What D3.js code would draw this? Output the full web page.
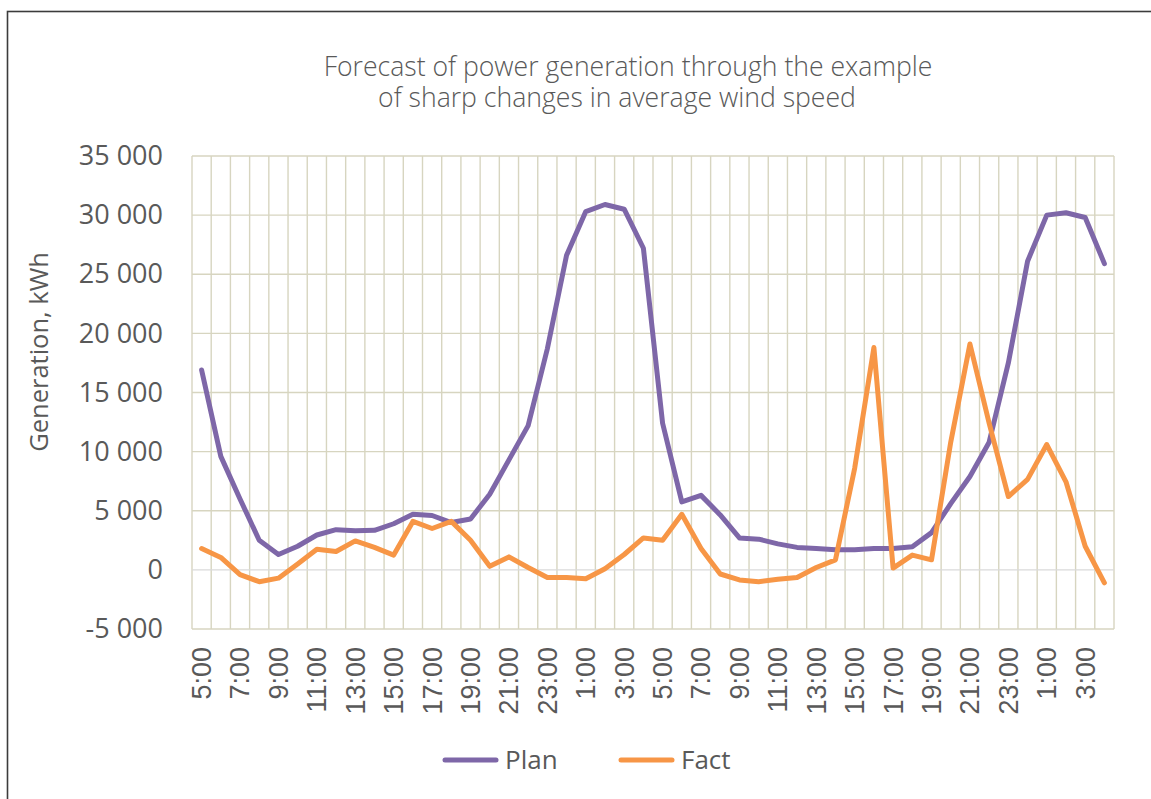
<!DOCTYPE html>
<html>
<head>
<meta charset="utf-8">
<script src="https://cdn.jsdelivr.net/npm/d3@7"></script>
<style>
  body { margin: 0; background: #fff; }
  text { font-family: "Open Sans", "Noto Sans", sans-serif; fill: #595959; }
</style>
</head>
<body>
<div id="chart"></div>
<script>
// hourly categories, two days from 5:00
let hours = ["5:00","6:00","7:00","8:00","9:00","10:00","11:00","12:00","13:00","14:00",
    "15:00","16:00","17:00","18:00","19:00","20:00","21:00","22:00","23:00","0:00",
    "1:00","2:00","3:00","4:00","5:00","6:00","7:00","8:00","9:00","10:00",
    "11:00","12:00","13:00","14:00","15:00","16:00","17:00","18:00","19:00","20:00",
    "21:00","22:00","23:00","0:00","1:00","2:00","3:00","4:00"];

let plan = [16900, 9600, 6000, 2500, 1300, 2000, 2950, 3400, 3300, 3350,
    3900, 4700, 4600, 4000, 4300, 6400, 9300, 12200, 18700, 26600,
    30300, 30900, 30500, 27200, 12400, 5750, 6300, 4650, 2700, 2600,
    2200, 1900, 1800, 1700, 1700, 1800, 1800, 1950, 3150, 5600,
    7900, 10800, 17500, 26100, 30000, 30200, 29800, 25900];

let fact = [1800, 1050, -400, -1000, -700, 500, 1750, 1550, 2450, 1900,
    1250, 4100, 3500, 4100, 2500, 300, 1100, 200, -650, -650,
    -750, 100, 1300, 2700, 2500, 4700, 1800, -350, -850, -1000,
    -800, -650, 200, 850, 8600, 18800, 150, 1250, 850, 10800,
    19100, 12400, 6200, 7650, 10600, 7450, 2000, -1100];

let yTicks = [-5000, 0, 5000, 10000, 15000, 20000, 25000, 30000, 35000];

let seriesNames = ["Plan", "Fact"];
let seriesColors = ["#7e67a8", "#f79646"];

let svgwidth = 1151;
let svgheight = 799;

let plotLeft = 192, plotRight = 1114, plotTop = 156, plotBottom = 629;

let svg = d3.select("#chart")
    .append("svg")
    .attr("width", svgwidth)
    .attr("height", svgheight);

// outer frame of the chart
svg.append("rect")
    .attr("x", 7.5)
    .attr("y", 11.5)
    .attr("width", 1200)
    .attr("height", 900)
    .attr("fill", "none")
    .attr("stroke", "#3c3c3c")
    .attr("stroke-width", 1.6);

let x = d3.scaleBand()
    .domain(d3.range(hours.length))
    .range([plotLeft, plotRight])
    .padding(0);

let y = d3.scaleLinear()
    .domain([-5000, 35000])
    .range([plotBottom, plotTop]);

let locale = d3.formatLocale({decimal: ",", thousands: " ", grouping: [3], currency: ["", ""], minus: "-"});
let fmt = locale.format(",d");

let cx = i => x(i) + x.bandwidth() / 2;

// gridlines
let grid = svg.append("g");
grid.selectAll("line.v")
    .data(d3.range(hours.length + 1))
    .enter()
    .append("line")
    .attr("x1", i => i < hours.length ? x(i) : plotRight)
    .attr("x2", i => i < hours.length ? x(i) : plotRight)
    .attr("y1", plotTop)
    .attr("y2", plotBottom)
    .attr("stroke", "#d7d5c0")
    .attr("stroke-width", 1.4);

grid.selectAll("line.h")
    .data(yTicks)
    .enter()
    .append("line")
    .attr("x1", plotLeft)
    .attr("x2", plotRight)
    .attr("y1", d => y(d))
    .attr("y2", d => y(d))
    .attr("stroke", d => d === 0 ? "#dadada" : "#d7d5c0")
    .attr("stroke-width", 1.4);

// y axis labels
let leftAxis = d3.axisLeft(y)
    .tickValues(yTicks)
    .tickFormat(fmt)
    .tickSize(0)
    .tickPadding(29);

let yAxis = svg.append("g")
    .attr("transform", `translate(${plotLeft}, 0)`)
    .call(leftAxis);
yAxis.select(".domain").remove();
yAxis.selectAll("text")
    .attr("font-size", 27)
    .style("font-family", "'Open Sans', sans-serif")
    .attr("fill", "#595959");

// x axis labels, every second hour
let bottomAxis = d3.axisBottom(x)
    .tickValues(d3.range(0, hours.length, 2))
    .tickFormat(i => hours[i])
    .tickSize(0);

let xAxis = svg.append("g")
    .attr("transform", `translate(0, ${plotBottom})`)
    .call(bottomAxis);
xAxis.select(".domain").remove();
xAxis.selectAll("text")
    .attr("font-size", 27)
    .style("font-family", "'Liberation Sans', Arial, sans-serif")
    .attr("fill", "#595959")
    .attr("transform", "rotate(-90)")
    .attr("text-anchor", "end")
    .attr("x", -18)
    .attr("y", 0)
    .attr("dy", "0.35em");

// lines
let line = d3.line()
    .x((d, i) => cx(i))
    .y(d => y(d));

[plan, fact].forEach(function(series, k) {
    svg.append("path")
        .datum(series)
        .attr("d", line)
        .attr("fill", "none")
        .attr("stroke", seriesColors[k])
        .attr("stroke-width", 5)
        .attr("stroke-linejoin", "round")
        .attr("stroke-linecap", "round");
});

// title
let title = svg.append("text")
    .attr("font-size", 26.6)
    .attr("font-weight", 300)
    .attr("text-anchor", "middle");
title.append("tspan").attr("x", 628).attr("y", 76).text("Forecast of power generation through the example");
title.append("tspan").attr("x", 617).attr("y", 107).text("of sharp changes in average wind speed");

// y axis title
svg.append("text")
    .attr("transform", "rotate(-90)")
    .attr("x", -352)
    .attr("y", 48)
    .attr("text-anchor", "middle")
    .attr("font-size", 25.5)
    .text("Generation, kWh");

// legend
let legendX = [445, 621];
let legend = svg.append("g");
seriesNames.forEach(function(name, k) {
    legend.append("line")
        .attr("x1", legendX[k])
        .attr("x2", legendX[k] + 51)
        .attr("y1", 760)
        .attr("y2", 760)
        .attr("stroke", seriesColors[k])
        .attr("stroke-width", 5)
        .attr("stroke-linecap", "round");
    legend.append("text")
        .attr("x", legendX[k] + 60)
        .attr("y", 769)
        .attr("font-size", 26)
        .text(name);
});
</script>
</body>
</html>
